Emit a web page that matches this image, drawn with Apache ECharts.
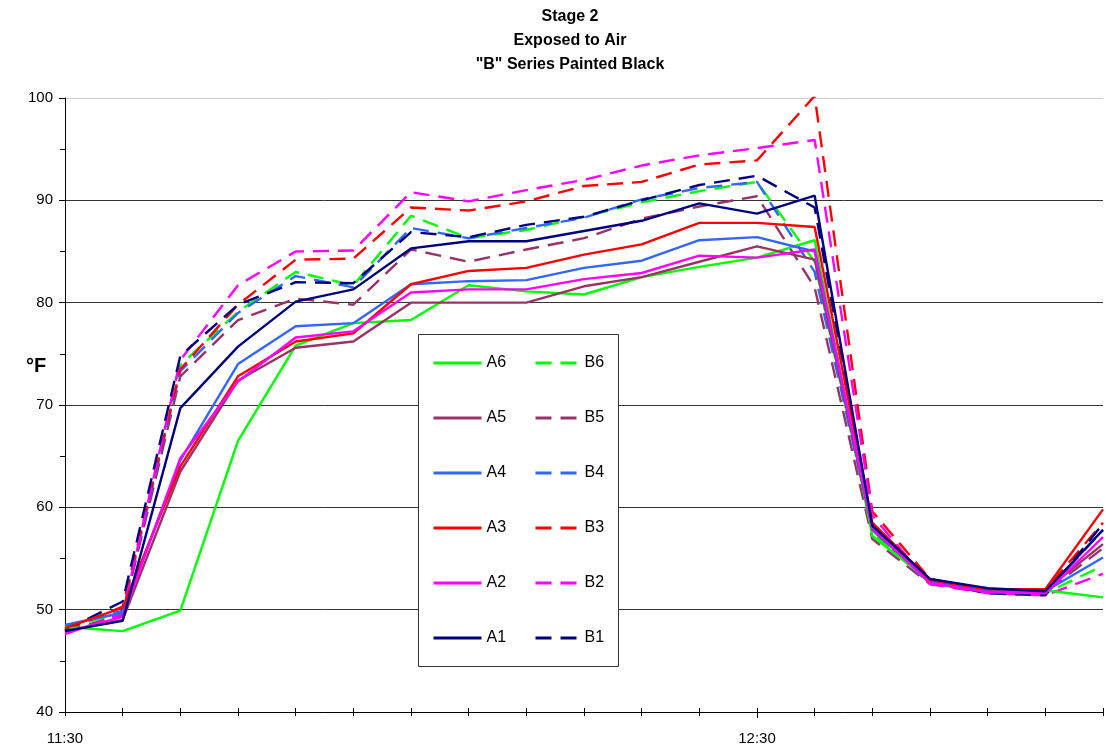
<!DOCTYPE html>
<html><head><meta charset="utf-8">
<script src="https://cdn.jsdelivr.net/npm/echarts@6/dist/echarts.min.js"></script>
<style>html,body{margin:0;padding:0;background:#fff}#c{width:1106px;height:746px}</style>
</head><body><div id="c"></div>
<script>
const times = ['11:30','11:35','11:40','11:45','11:50','11:55','12:00','12:05','12:10','12:15','12:20','12:25','12:30','12:35','12:40','12:45','12:50','12:55','13:00'];
const shownTimeLabels = ['11:30','12:30'];
const titleLines = ['Stage 2', 'Exposed to Air', '"B" Series Painted Black'];
const unitLabel = '°F';

const A6 = [48.3, 47.9, 49.9, 66.5, 75.8, 78.0, 78.3, 81.7, 81.1, 80.8, 82.5, 83.5, 84.4, 86.1, 57.2, 52.8, 52.0, 51.9, 51.2];
const A5 = [47.9, 49.0, 63.5, 72.4, 75.6, 76.2, 80.0, 80.0, 80.0, 81.6, 82.5, 84.0, 85.5, 84.2, 57.8, 52.8, 51.9, 51.9, 56.4];
const A4 = [48.5, 49.7, 64.6, 74.0, 77.7, 78.0, 81.8, 82.1, 82.2, 83.4, 84.1, 86.1, 86.4, 85.0, 57.9, 52.7, 51.9, 51.8, 55.1];
const A3 = [48.2, 50.2, 64.0, 72.8, 76.2, 77.0, 81.8, 83.1, 83.4, 84.7, 85.7, 87.8, 87.8, 87.4, 58.5, 52.9, 52.0, 52.0, 59.8];
const A2 = [47.8, 49.3, 64.8, 72.3, 76.6, 77.2, 81.0, 81.3, 81.3, 82.3, 82.9, 84.6, 84.4, 85.2, 58.0, 52.6, 51.7, 51.6, 57.1];
const A1 = [47.9, 48.9, 69.7, 75.7, 80.1, 81.3, 85.3, 86.0, 86.0, 87.0, 88.0, 89.7, 88.7, 90.45, 58.2, 53.0, 52.1, 51.8, 57.8];
const B6 = [48.2, 49.7, 73.9, 79.1, 83.0, 81.7, 88.5, 86.3, 87.1, 88.4, 89.8, 90.9, 91.8, 84.0, 57.5, 52.6, 51.8, 51.6, 54.3];
const B5 = [47.9, 49.5, 72.8, 78.3, 80.4, 79.8, 85.2, 84.0, 85.2, 86.3, 88.2, 89.4, 90.4, 81.5, 56.9, 52.5, 51.8, 51.7, 56.0];
const B4 = [48.4, 49.9, 73.3, 79.0, 82.6, 81.5, 87.3, 86.3, 87.3, 88.3, 90.1, 91.2, 91.8, 83.0, 57.8, 52.5, 51.8, 51.6, 57.8];
const B3 = [48.0, 50.3, 73.5, 79.8, 84.2, 84.3, 89.3, 89.0, 89.9, 91.4, 91.8, 93.5, 93.9, 100.2, 59.6, 53.0, 51.9, 51.9, 58.5];
const B2 = [47.6, 49.6, 74.4, 81.7, 85.0, 85.1, 90.8, 89.9, 91.0, 92.0, 93.4, 94.4, 95.1, 95.9, 59.2, 52.5, 51.6, 51.4, 53.5];
const B1 = [48.0, 50.8, 74.8, 79.8, 82.0, 81.9, 86.9, 86.4, 87.6, 88.4, 90.0, 91.5, 92.4, 89.3, 58.0, 52.7, 51.6, 51.4, 58.4];

const seriesData = {A6, A5, A4, A3, A2, A1, B6, B5, B4, B3, B2, B1};
const seriesColors = {
  '6': '#00FF00', '5': '#993366', '4': '#3366FF', '3': '#FF0000', '2': '#FF00FF', '1': '#000080'
};
const drawOrder = ['B6','B5','B4','B3','B2','B1','A6','A5','A4','A3','A2','A1'];
const legendA = ['A6','A5','A4','A3','A2','A1'];
const legendB = ['B6','B5','B4','B3','B2','B1'];

const FONT = 'Liberation Sans, Arial, sans-serif';
const chart = echarts.init(document.getElementById('c'));

const series = drawOrder.map(name => ({
  name,
  type: 'line',
  xAxisIndex: 0,
  data: seriesData[name],
  symbol: 'none',
  showSymbol: false,
  clip: true,
  color: seriesColors[name.slice(1)],
  lineStyle: {
    color: seriesColors[name.slice(1)],
    width: 2.4,
    type: name[0] === 'B' ? [16, 9] : 'solid'
  },
  emphasis: { disabled: true },
  animation: false
}));

const baseX = {
  type: 'category',
  data: times,
  boundaryGap: false,
  gridIndex: 0,
  position: 'bottom'
};

const legendCommon = {
  orient: 'vertical', top: 355, padding: 0,
  itemHeight: 16, itemGap: 39,
  textStyle: { fontSize: 16, color: '#000', fontFamily: FONT, lineHeight: 16 },
  itemStyle: { opacity: 0, borderWidth: 0 },
  lineStyle: { width: 3 },
  selectedMode: false, z: 100
};

const option = {
  animation: false,
  backgroundColor: '#ffffff',
  textStyle: { fontFamily: FONT },
  grid: { left: 65, top: 98, width: 1047, height: 615, containLabel: false },
  xAxis: [
    Object.assign({}, baseX, {
      axisLine: { show: true, lineStyle: { color: '#000', width: 1 } },
      axisTick: { show: true, inside: true, length: 4, lineStyle: { color: '#000' } },
      axisLabel: {
        show: true, fontSize: 15, color: '#000', fontFamily: FONT, margin: 19,
        interval: 0,
        formatter: v => shownTimeLabels.includes(v) ? v : ''
      },
      splitLine: { show: false }
    }),
    Object.assign({}, baseX, {
      axisLine: { show: false },
      axisTick: { show: true, inside: false, length: 4, lineStyle: { color: '#000' } },
      axisLabel: { show: false },
      splitLine: { show: false }
    }),
    Object.assign({}, baseX, {
      axisLine: { show: false },
      axisTick: { show: true, inside: false, length: 6, interval: (i) => i === 12, lineStyle: { color: '#000' } },
      axisLabel: { show: false },
      splitLine: { show: false }
    })
  ],
  yAxis: {
    type: 'value',
    min: 40, max: 100, interval: 10,
    axisLine: { show: true, lineStyle: { color: '#000', width: 1 } },
    axisTick: { show: true, length: 6, lineStyle: { color: '#000' } },
    minorTick: { show: true, splitNumber: 2, length: 5, lineStyle: { color: '#000' } },
    minorSplitLine: { show: false },
    axisLabel: { fontSize: 15, color: '#000', fontFamily: FONT, margin: 12 },
    splitLine: { show: true, lineStyle: { color: ['#333','#333','#333','#333','#333','#333','#c8c8c8'], width: 1 } }
  },
  legend: [
    Object.assign({}, legendCommon, { data: legendA, left: 432, itemWidth: 48 }),
    Object.assign({}, legendCommon, { data: legendB, left: 534, itemWidth: 44 })
  ],
  graphic: [
    { type: 'rect', z: 50, shape: { x: 418.5, y: 334.5, width: 200, height: 332 },
      style: { fill: '#fff', stroke: '#333', lineWidth: 1 } },
    ...titleLines.map((t, i) => ({
      type: 'text', z: 60, x: 570, y: 17 + i * 24,
      style: { text: t, font: 'bold 16px ' + FONT, fill: '#000', textAlign: 'center', textVerticalAlign: 'middle' }
    })),
    { type: 'text', z: 60, x: 36, y: 366,
      style: { text: unitLabel, font: 'bold 20px ' + FONT, fill: '#000', textAlign: 'center', textVerticalAlign: 'middle' } }
  ],
  series
};
chart.setOption(option);
</script>
</body></html>
